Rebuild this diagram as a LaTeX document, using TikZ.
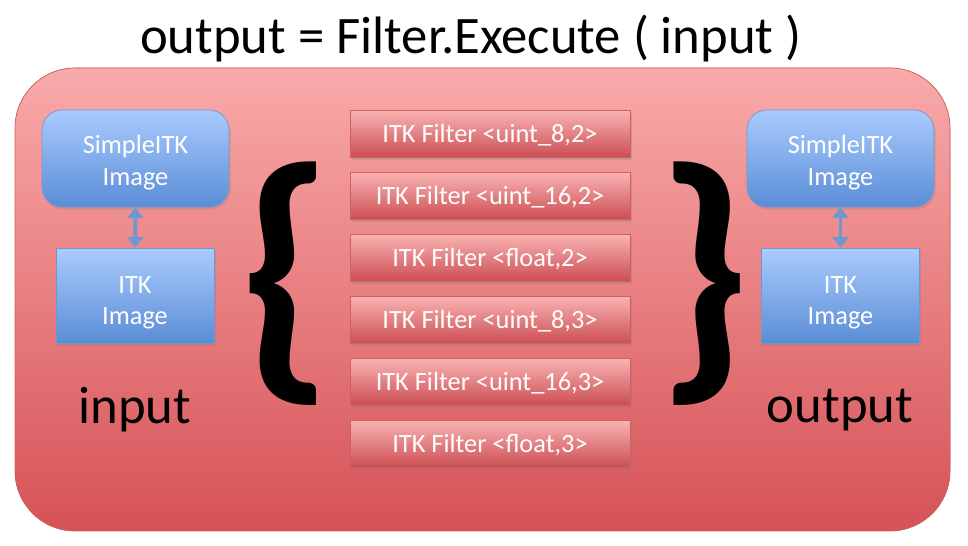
\documentclass[tikz,border=0pt]{standalone}
\usepackage{fontspec}
\setmainfont{Carlito}
\usetikzlibrary{positioning, shadows, arrows.meta}

\definecolor{redtop}{HTML}{F9AAAA}
\definecolor{redbot}{HTML}{D65257}
\definecolor{redline}{HTML}{D06060}
\definecolor{bluetop}{HTML}{AACBFE}
\definecolor{bluebot}{HTML}{5A8DD6}
\definecolor{blueline}{HTML}{6F98CE}

\begin{document}
\begin{tikzpicture}[x=0.02cm, y=-0.02cm,
		boxtext/.style = {text=white, font=\fontsize{15}{18}\selectfont, align=center, inner sep=0pt},
		sitkbox/.style = {boxtext, draw=blueline, top color=bluetop, bottom color=bluebot,
			rounded corners=0.4cm, minimum width=3.74cm, minimum height=1.94cm,
			drop shadow={shadow xshift=1pt, shadow yshift=-1.5pt, opacity=0.25}},
		itkbox/.style = {boxtext, draw=blueline, top color=bluetop, bottom color=bluebot,
			minimum width=3.16cm, minimum height=1.9cm,
			drop shadow={shadow xshift=1pt, shadow yshift=-1.5pt, opacity=0.25}},
		filterbox/.style = {boxtext, draw=redline, top color=redtop!90!white, bottom color=redbot!95!black,
			minimum width=5.6cm, minimum height=0.94cm,
			drop shadow={shadow xshift=1pt, shadow yshift=-1.5pt, opacity=0.3}},
		bigtext/.style = {font=\fontsize{30}{34}\selectfont, inner sep=0pt},
		brace/.style = {font=\fontsize{158}{158}\selectfont\bfseries, inner sep=0pt},
		link/.style = {draw=blueline, line width=2.2pt, {Triangle[length=6pt,width=9pt]}-{Triangle[length=6pt,width=9pt]}}
	]
	\useasboundingbox (0,0) rectangle (968,546);

	% outer frame
	\fill[rounded corners=1.2cm, top color=redtop, bottom color=redbot, draw=redline] (15,68) rectangle (950,531);

	\node[bigtext] (title) at (471,38) {output = Filter.Execute ( input )};

	% input side
	\node[sitkbox] (sitk-in) at (135.5,158.5) {\rule{0pt}{15pt}SimpleITK\\Image};
	\node[itkbox] (itk-in) at (135,295.5) {\rule{0pt}{18pt}ITK\\Image};
	\draw[link] (sitk-in) -- (itk-in);
	\node[bigtext] (in-label) at (135,410) {input};

	% output side
	\node[sitkbox] (sitk-out) at (840.5,158.5) {\rule{0pt}{15pt}SimpleITK\\Image};
	\node[itkbox] (itk-out) at (840.5,295.5) {\rule{0pt}{18pt}ITK\\Image};
	\draw[link] (sitk-out) -- (itk-out);
	\node[bigtext] (out-label) at (840,410) {output};

	% braces
	\node[brace] (lbrace) at (286,284) {\{};
	\node[brace] (rbrace) at (704,284) {\}};

	% filter instances
	\foreach \t [count=\i] in {{uint\_8,2}, {uint\_16,2}, {float,2}, {uint\_8,3}, {uint\_16,3}, {float,3}}
		\node[filterbox] (filt-\i) at (490,{72+62*\i}) {\rule{0pt}{12pt}ITK Filter <\t>};
\end{tikzpicture}
\end{document}
